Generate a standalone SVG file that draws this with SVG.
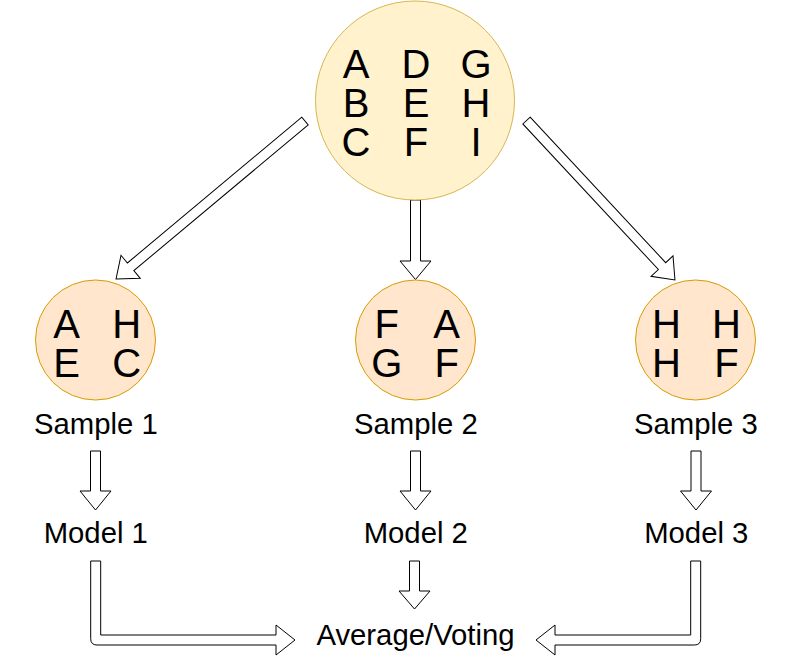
<svg xmlns="http://www.w3.org/2000/svg" width="791" height="657" viewBox="0 0 791 657">
<style>
text{font-family:"Liberation Sans",Helvetica,Arial,sans-serif;fill:#000;text-anchor:middle}
.big{font-size:40px}
.lbl{font-size:29.3px}
.pop{fill:#fff2cc;stroke:#d6b656;stroke-width:1}
.smp{fill:#ffe6cc;stroke:#d79b00;stroke-width:1}
.arr{fill:#fff;stroke:#000;stroke-width:1;stroke-linejoin:miter}
</style>
<rect width="791" height="657" fill="#fff"/>
<g id="connectors">
<polygon class="arr" points="0,-5 227.3,-5 227.3,-15 246.3,0 227.3,15 227.3,5 0,5" transform="translate(305 121) rotate(140.1)"/>
<polygon class="arr" points="0,-5 198.9,-5 198.9,-15 217.9,0 198.9,15 198.9,5 0,5" transform="translate(526.5 120.5) rotate(47.05)"/>
<polygon class="arr" points="410.5,200 420.5,200 420.5,261 431,261 415.5,279.5 400,261 410.5,261"/>
<polygon class="arr" points="90.5,451 100.5,451 100.5,491 111,491 95.5,510 80,491 90.5,491"/>
<polygon class="arr" points="410.5,451 420.5,451 420.5,491 431,491 415.5,510 400,491 410.5,491"/>
<polygon class="arr" points="691,451 701,451 701,491 711.5,491 696,510 680.5,491 691,491"/>
<polygon class="arr" points="409.5,561 419.5,561 419.5,591 430,591 414.5,609 399,591 409.5,591"/>
<path class="arr" d="M90.7 561 L100.7 561 L100.7 635 L276 635 L276 625 L295 640 L276 655 L276 645 L97 645 Q90.7 645 90.7 638.7 Z"/>
<path class="arr" d="M700.7 561 L690.7 561 L690.7 635 L555 635 L555 625 L536 640 L555 655 L555 645 L694.4 645 Q700.7 645 700.7 638.7 Z"/>
</g>
<g id="population">
<circle class="pop" cx="415" cy="100.5" r="99.5"/>
<text class="big" x="356" y="78">A</text>
<text class="big" x="416" y="78">D</text>
<text class="big" x="476" y="78">G</text>
<text class="big" x="356" y="117">B</text>
<text class="big" x="416" y="117">E</text>
<text class="big" x="476" y="117">H</text>
<text class="big" x="356" y="156">C</text>
<text class="big" x="416" y="156">F</text>
<text class="big" x="476" y="156">I</text>
</g>
<g id="sample1">
<circle class="smp" cx="95.5" cy="340" r="60"/>
<text class="big" x="66.7" y="338">A</text>
<text class="big" x="126.7" y="338">H</text>
<text class="big" x="66.7" y="377">E</text>
<text class="big" x="126.7" y="377">C</text>
</g>
<g id="sample2">
<circle class="smp" cx="415.5" cy="340" r="60"/>
<text class="big" x="386.7" y="338">F</text>
<text class="big" x="446.7" y="338">A</text>
<text class="big" x="386.7" y="377">G</text>
<text class="big" x="446.7" y="377">F</text>
</g>
<g id="sample3">
<circle class="smp" cx="695.5" cy="340" r="60"/>
<text class="big" x="666.5" y="338">H</text>
<text class="big" x="726.5" y="338">H</text>
<text class="big" x="666.5" y="377">H</text>
<text class="big" x="726.5" y="377">F</text>
</g>
<g id="label-sample1"><text class="lbl" x="95.8" y="434">Sample 1</text></g>
<g id="label-sample2"><text class="lbl" x="415.8" y="434">Sample 2</text></g>
<g id="label-sample3"><text class="lbl" x="695.8" y="434">Sample 3</text></g>
<g id="model1"><text class="lbl" x="95.8" y="543">Model 1</text></g>
<g id="model2"><text class="lbl" x="415.8" y="543">Model 2</text></g>
<g id="model3"><text class="lbl" x="696.3" y="543">Model 3</text></g>
<g id="average"><text class="lbl" x="415.5" y="645">Average/Voting</text></g>
</svg>
